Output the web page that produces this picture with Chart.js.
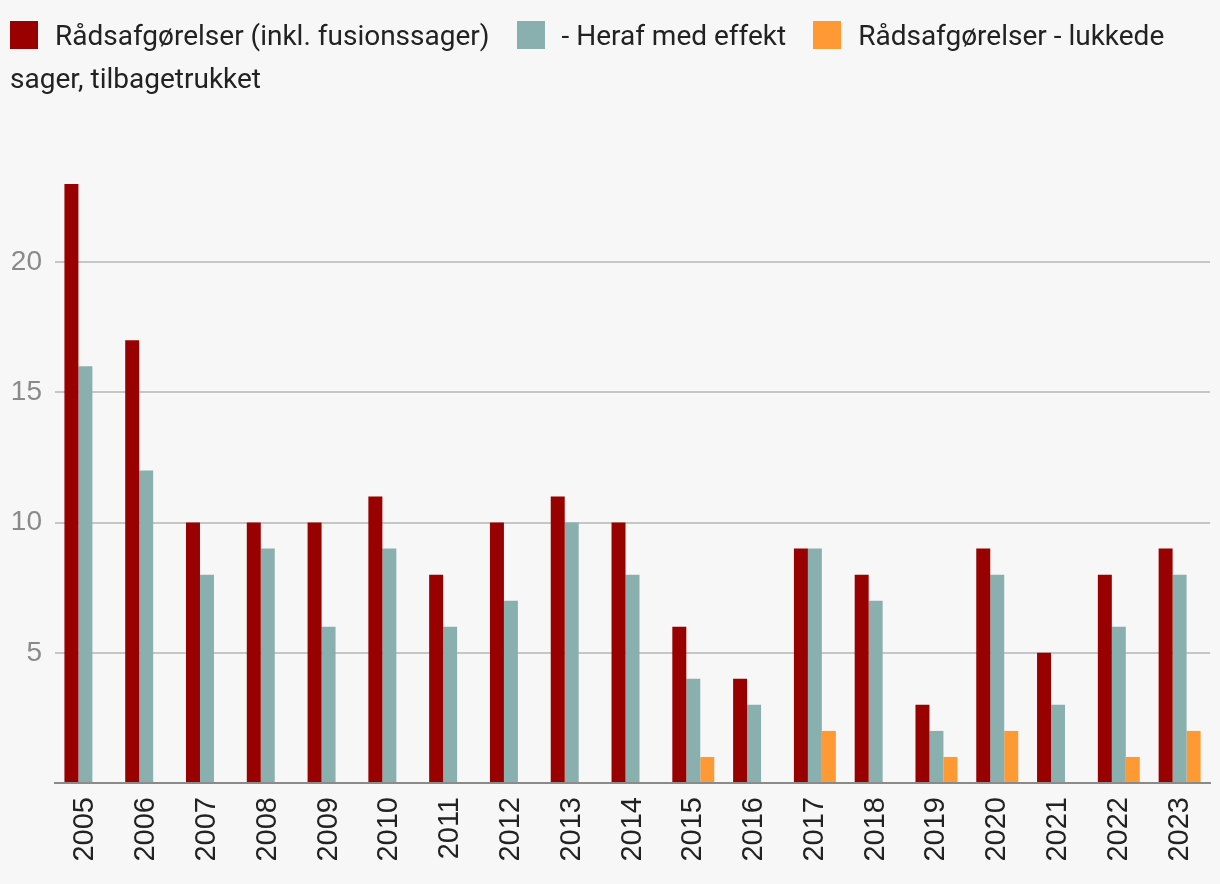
<!DOCTYPE html>
<html>
<head>
<meta charset="utf-8">
<script src="https://cdn.jsdelivr.net/npm/chart.js@4"></script>
<style>
  html, body { margin: 0; padding: 0; background: #f7f7f7; }
  #wrap { position: relative; width: 1220px; height: 884px; }
  #chart { position: absolute; left: 0; top: 0; }
  #legend {
    position: absolute; left: 10px; top: 14px; width: 1205px;
    font-family: Roboto, "Noto Sans", sans-serif; font-size: 28px;
    line-height: 43px; color: #222;
  }
  #legend .box {
    display: inline-block; width: 28px; height: 28px;
    vertical-align: -4px; margin-right: 17px;
  }
  #legend .item { margin-right: 20px; }
</style>
</head>
<body>
<div id="wrap">
  <canvas id="chart" width="1220" height="884"></canvas>
  <div id="legend"></div>
</div>
<script>
// data
const years = ['2005', '2006', '2007', '2008', '2009', '2010', '2011', '2012', '2013', '2014',
               '2015', '2016', '2017', '2018', '2019', '2020', '2021', '2022', '2023'];
const raadsafgoerelser = [23, 17, 10, 10, 10, 11, 8, 10, 11, 10, 6, 4, 9, 8, 3, 9, 5, 8, 9];
const herafMedEffekt = [16, 12, 8, 9, 6, 9, 6, 7, 10, 8, 4, 3, 9, 7, 2, 8, 3, 6, 8];
const lukkedeSager = [0, 0, 0, 0, 0, 0, 0, 0, 0, 0, 1, 0, 2, 0, 1, 2, 0, 1, 2];
const seriesNames = ['Rådsafgørelser (inkl. fusionssager)', '- Heraf med effekt',
                     'Rådsafgørelser - lukkede sager, tilbagetrukket'];
const colors = ['#990000', '#8aafaf', '#ff9933'];

const chart = new Chart(document.getElementById('chart'), {
    type: 'bar',
    data: {
        labels: years,
        datasets: [raadsafgoerelser, herafMedEffekt, lukkedeSager].map((d, i) => ({
            label: seriesNames[i],
            data: d,
            backgroundColor: colors[i],
            borderWidth: 0,
            categoryPercentage: 0.69,
            barPercentage: 1
        }))
    },
    options: {
        responsive: false,
        animation: false,
        layout: { padding: { top: 184, right: 10, left: 0, bottom: 0 } },
        plugins: {
            legend: { display: false },
            tooltip: { enabled: false }
        },
        scales: {
            x: {
                grid: { display: false, drawTicks: false },
                border: { display: true, color: '#8a8a8a', width: 2 },
                ticks: {
                    minRotation: 90, maxRotation: 90, padding: 14,
                    color: '#222',
                    font: { family: '"Liberation Sans", Arial, sans-serif', size: 29 }
                },
                afterFit: s => {
                    s.height = 101;
                    s.paddingLeft = 0;
                    s.paddingRight = 0;
                }
            },
            y: {
                min: 0, max: 23,
                border: { display: false },
                grid: {
                    drawTicks: false, lineWidth: 2,
                    color: c => c.tick && c.tick.value === 0 ? 'transparent' : '#c6c6c6'
                },
                ticks: {
                    stepSize: 5, includeBounds: false, padding: 13,
                    color: '#8a8a8a',
                    font: { family: '"Liberation Sans", Arial, sans-serif', size: 28 },
                    callback: v => v === 0 ? '' : v
                },
                afterFit: s => { s.width = 55; }
            }
        }
    }
});

// html legend so the last label can wrap onto the next line like the original
const legend = document.getElementById('legend');
chart.data.datasets.forEach(ds => {
    const item = document.createElement('span');
    item.className = 'item';
    const box = document.createElement('span');
    box.className = 'box';
    box.style.background = ds.backgroundColor;
    item.appendChild(box);
    item.appendChild(document.createTextNode(ds.label));
    legend.appendChild(item);
    legend.appendChild(document.createTextNode(' '));
});
</script>
</body>
</html>
